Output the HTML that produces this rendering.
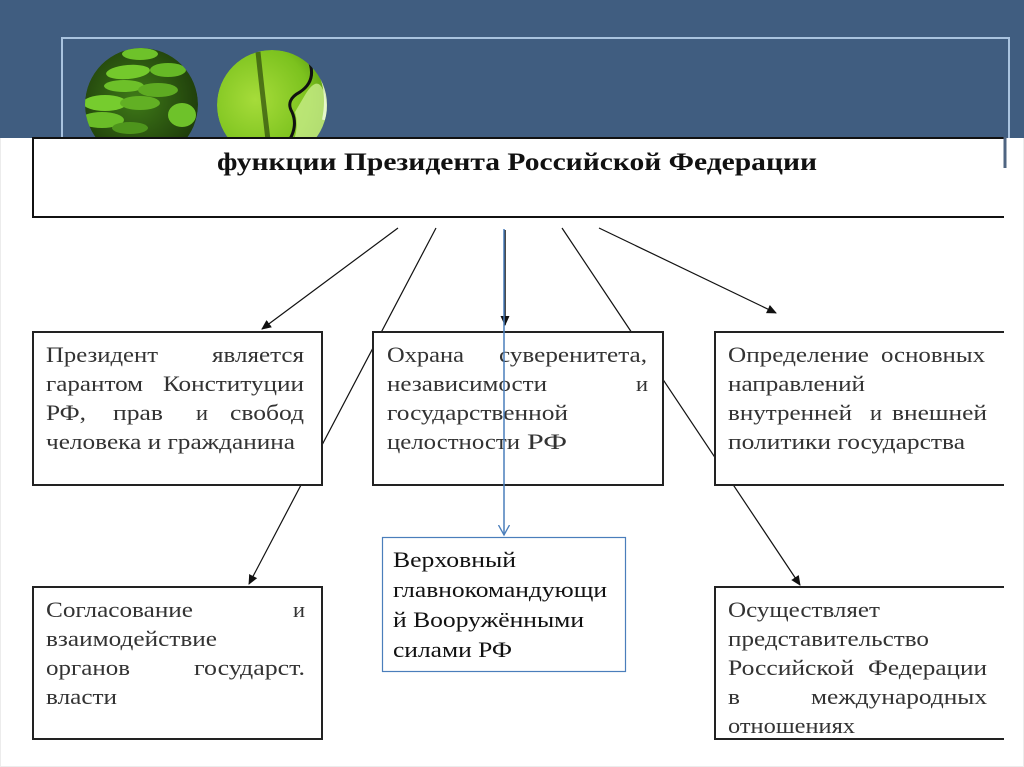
<!DOCTYPE html>
<html>
<head>
<meta charset="utf-8">
<style>
html,body{margin:0;padding:0;background:#fff;}
svg{display:block;}
.t{font-family:"Liberation Serif","Noto Serif CJK SC",serif;font-size:22px;fill:#333;}
.b{font-family:"Liberation Serif","Noto Serif CJK SC",serif;font-size:22px;fill:#111;}
.h{font-family:"Liberation Serif","Noto Serif CJK SC",serif;font-size:25px;font-weight:bold;fill:#111;}
</style>
</head>
<body>
<svg width="1024" height="767" viewBox="0 0 1024 767" xmlns="http://www.w3.org/2000/svg">
<defs>
<marker id="ah" markerWidth="10" markerHeight="10" refX="9" refY="5" orient="auto" markerUnits="userSpaceOnUse">
<path d="M0,0.5 L10,5 L0,9.5 Z" fill="#111"/>
</marker>
<marker id="ab" markerWidth="12" markerHeight="12" refX="10" refY="6" orient="auto" markerUnits="userSpaceOnUse">
<path d="M0,0.5 L10,6 L0,11.5" fill="none" stroke="#4a7ebb" stroke-width="1.3"/>
</marker>
<radialGradient id="g1" cx="0.45" cy="0.45" r="0.6">
<stop offset="0" stop-color="#3f7a18"/>
<stop offset="1" stop-color="#1d3a0a"/>
</radialGradient>
<radialGradient id="g2" cx="0.35" cy="0.45" r="0.7">
<stop offset="0" stop-color="#a6dc3a"/>
<stop offset="0.7" stop-color="#7cc21e"/>
<stop offset="1" stop-color="#5a9a12"/>
</radialGradient>
<clipPath id="c1"><circle cx="141.5" cy="104.5" r="56.5"/></clipPath>
<clipPath id="c2"><circle cx="272" cy="105" r="55"/></clipPath>
</defs>

<rect x="0.5" y="0.5" width="1023" height="766" fill="none" stroke="#ececec" stroke-width="1"/>
<rect x="0" y="0" width="1024" height="138" fill="#405d80"/>
<path d="M62,138 L62,38 L1009,38 L1009,138" fill="none" stroke="#a9c3df" stroke-width="2"/>

<g clip-path="url(#c1)">
<circle cx="141.5" cy="104.5" r="56.5" fill="url(#g1)"/>
<ellipse cx="140" cy="54" rx="18" ry="6" fill="#6ec22a"/>
<ellipse cx="128" cy="72" rx="22" ry="7" fill="#74c92c" transform="rotate(-5 128 72)"/>
<ellipse cx="168" cy="70" rx="18" ry="7" fill="#66b826"/>
<ellipse cx="124" cy="86" rx="20" ry="6" fill="#6dc029"/>
<ellipse cx="158" cy="90" rx="20" ry="7" fill="#5eab22"/>
<ellipse cx="105" cy="103" rx="22" ry="8" fill="#76cc2e"/>
<ellipse cx="140" cy="103" rx="20" ry="7" fill="#62b024"/>
<ellipse cx="182" cy="115" rx="14" ry="12" fill="#6ec22a"/>
<ellipse cx="102" cy="120" rx="22" ry="8" fill="#6abd28"/>
<ellipse cx="130" cy="128" rx="18" ry="6" fill="#4e951c"/>
</g>
<g clip-path="url(#c2)">
<circle cx="272" cy="105" r="55" fill="url(#g2)"/>
<path d="M258,52 Q262,90 268,140" stroke="#2c4a0c" stroke-width="5" fill="none" opacity="0.7"/>
<path d="M308,58 Q318,80 300,92 Q285,100 292,112 Q300,130 282,150" stroke="#111" stroke-width="3" fill="none"/>
<path d="M305,95 Q320,70 326,100 L330,150 L290,150 Q300,130 295,112 Z" fill="#c8ec8a" opacity="0.8"/>
<path d="M318,68 Q330,90 324,120" stroke="#f2fbe0" stroke-width="4" fill="none" opacity="0.8"/>
</g>

<line x1="398" y1="228" x2="262" y2="329" stroke="#111" stroke-width="1.2" marker-end="url(#ah)"/>
<line x1="436" y1="228" x2="249" y2="584" stroke="#111" stroke-width="1.2" marker-end="url(#ah)"/>
<line x1="562" y1="228" x2="800" y2="585" stroke="#111" stroke-width="1.2" marker-end="url(#ah)"/>
<line x1="599" y1="228" x2="776" y2="313" stroke="#111" stroke-width="1.2" marker-end="url(#ah)"/>
<line x1="505" y1="230" x2="505" y2="325" stroke="#111" stroke-width="1.5" marker-end="url(#ah)"/>

<path d="M1004,138 L33,138 L33,217 L1004,217" fill="#fff" stroke="#111" stroke-width="2"/>
<line x1="1005" y1="137" x2="1005" y2="168" stroke="#4f6582" stroke-width="3"/>
<text class="h" x="217" y="170" textLength="600" lengthAdjust="spacingAndGlyphs">функции Президента Российской Федерации</text>

<rect x="33" y="332" width="289" height="153" fill="#fff" stroke="#222" stroke-width="2"/>
<g class="t">
<text x="46" y="362" textLength="112" lengthAdjust="spacingAndGlyphs">Президент</text>
<text x="212" y="362" textLength="92" lengthAdjust="spacingAndGlyphs">является</text>
<text x="46" y="391" textLength="97" lengthAdjust="spacingAndGlyphs">гарантом</text>
<text x="163" y="391" textLength="141" lengthAdjust="spacingAndGlyphs">Конституции</text>
<text x="46" y="420" textLength="40" lengthAdjust="spacingAndGlyphs">РФ,</text>
<text x="113" y="420" textLength="50" lengthAdjust="spacingAndGlyphs">прав</text>
<text x="196" y="420" textLength="12" lengthAdjust="spacingAndGlyphs">и</text>
<text x="230" y="420" textLength="74" lengthAdjust="spacingAndGlyphs">свобод</text>
<text x="46" y="449" textLength="249" lengthAdjust="spacingAndGlyphs">человека и гражданина</text>
</g>

<rect x="373" y="332" width="290" height="153" fill="#fff" stroke="#222" stroke-width="2"/>
<g class="t">
<text x="387" y="362" textLength="77" lengthAdjust="spacingAndGlyphs">Охрана</text>
<text x="499" y="362" textLength="148" lengthAdjust="spacingAndGlyphs">суверенитета,</text>
<text x="387" y="391" textLength="160" lengthAdjust="spacingAndGlyphs">независимости</text>
<text x="636" y="391" textLength="12" lengthAdjust="spacingAndGlyphs">и</text>
<text x="387" y="420" textLength="181" lengthAdjust="spacingAndGlyphs">государственной</text>
<text x="387" y="449" textLength="133" lengthAdjust="spacingAndGlyphs">целостности</text>
<text x="527" y="449" textLength="40" lengthAdjust="spacingAndGlyphs">РФ</text>
</g>

<path d="M1004,332 L715,332 L715,485 L1004,485" fill="#fff" stroke="#222" stroke-width="2"/>
<g class="t">
<text x="728" y="362" textLength="141" lengthAdjust="spacingAndGlyphs">Определение</text>
<text x="881" y="362" textLength="104" lengthAdjust="spacingAndGlyphs">основных</text>
<text x="728" y="391" textLength="137" lengthAdjust="spacingAndGlyphs">направлений</text>
<text x="728" y="420" textLength="124" lengthAdjust="spacingAndGlyphs">внутренней</text>
<text x="870" y="420" textLength="12" lengthAdjust="spacingAndGlyphs">и</text>
<text x="892" y="420" textLength="95" lengthAdjust="spacingAndGlyphs">внешней</text>
<text x="728" y="449" textLength="237" lengthAdjust="spacingAndGlyphs">политики государства</text>
</g>

<rect x="33" y="587" width="289" height="152" fill="#fff" stroke="#222" stroke-width="2"/>
<g class="t">
<text x="46" y="617" textLength="147" lengthAdjust="spacingAndGlyphs">Согласование</text>
<text x="293" y="617" textLength="12" lengthAdjust="spacingAndGlyphs">и</text>
<text x="46" y="646" textLength="171" lengthAdjust="spacingAndGlyphs">взаимодействие</text>
<text x="46" y="675" textLength="84" lengthAdjust="spacingAndGlyphs">органов</text>
<text x="194" y="675" textLength="111" lengthAdjust="spacingAndGlyphs">государст.</text>
<text x="46" y="704" textLength="71" lengthAdjust="spacingAndGlyphs">власти</text>
</g>

<path d="M1004,587 L715,587 L715,739 L1004,739" fill="#fff" stroke="#222" stroke-width="2"/>
<g class="t">
<text x="728" y="617" textLength="152" lengthAdjust="spacingAndGlyphs">Осуществляет</text>
<text x="728" y="646" textLength="201" lengthAdjust="spacingAndGlyphs">представительство</text>
<text x="728" y="675" textLength="126" lengthAdjust="spacingAndGlyphs">Российской</text>
<text x="868" y="675" textLength="119" lengthAdjust="spacingAndGlyphs">Федерации</text>
<text x="728" y="704" textLength="12" lengthAdjust="spacingAndGlyphs">в</text>
<text x="811" y="704" textLength="176" lengthAdjust="spacingAndGlyphs">международных</text>
<text x="728" y="733" textLength="127" lengthAdjust="spacingAndGlyphs">отношениях</text>
</g>

<line x1="504" y1="229" x2="504" y2="535" stroke="#4a7ebb" stroke-width="1.5" marker-end="url(#ab)"/>
<rect x="382.5" y="537.5" width="243" height="134" fill="#fff" stroke="#4a7ebb" stroke-width="1.2"/>
<g class="b">
<text x="393" y="567" textLength="123" lengthAdjust="spacingAndGlyphs">Верховный</text>
<text x="393" y="597" textLength="214" lengthAdjust="spacingAndGlyphs">главнокомандующи</text>
<text x="393" y="627" textLength="191" lengthAdjust="spacingAndGlyphs">й Вооружёнными</text>
<text x="393" y="657" textLength="119" lengthAdjust="spacingAndGlyphs">силами РФ</text>
</g>
</svg>
</body>
</html>
